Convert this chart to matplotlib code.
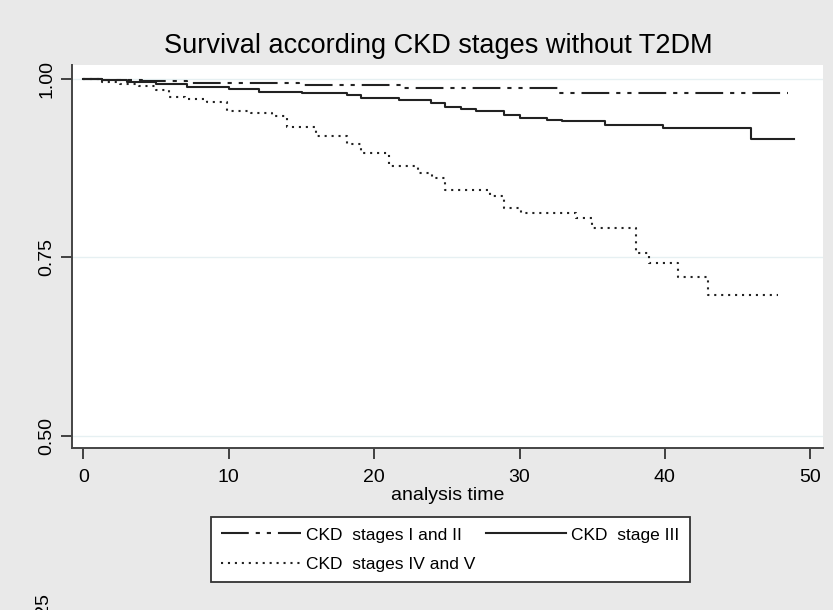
import matplotlib
matplotlib.use('Agg')
import matplotlib.pyplot as plt

plt.rcParams['font.family'] = ['Liberation Sans', 'DejaVu Sans']
plt.rcParams['lines.scale_dashes'] = False

# Kaplan-Meier step data
t_12 = [0, 1.3, 4.0, 7.1, 14.8, 21.9, 32.7, 48.5]
s_12 = [1.0, 0.998, 0.997, 0.995, 0.992, 0.988, 0.981, 0.981]

t_3 = [0, 1.3, 3.0, 5.0, 7.1, 10.0, 12.1, 15.0, 18.1, 19.1, 21.7, 23.9, 24.9,
       26.0, 27.0, 28.9, 30.0, 31.9, 32.9, 35.9, 39.9, 45.9, 48.9]
s_3 = [1.0, 0.998, 0.996, 0.993, 0.989, 0.986, 0.982, 0.980, 0.978, 0.973, 0.971,
       0.966, 0.961, 0.958, 0.955, 0.949, 0.946, 0.942, 0.941, 0.935, 0.932, 0.916, 0.916]

t_45 = [0, 1.3, 2.5, 3.8, 5.0, 5.9, 7.0, 8.5, 9.9, 11.5, 13.0, 14.0, 16.0, 18.1,
        19.1, 21.0, 23.0, 24.0, 24.9, 28.0, 28.9, 30.1, 33.9, 35.0, 38.0, 38.9,
        40.9, 43.0, 47.8]
s_45 = [1.0, 0.996, 0.993, 0.990, 0.985, 0.975, 0.972, 0.968, 0.955, 0.952, 0.948,
        0.933, 0.920, 0.909, 0.897, 0.878, 0.868, 0.862, 0.844, 0.836, 0.819, 0.812,
        0.805, 0.792, 0.756, 0.742, 0.722, 0.698, 0.698]

labels = ['CKD  stages I and II', 'CKD  stage III', 'CKD  stages IV and V']
xticks = [0, 10, 20, 30, 40, 50]
yticks = [0.50, 0.75, 1.00]

bg = '#e9e9e9'
fig = plt.figure(figsize=(8.33, 6.10), dpi=100, facecolor=bg)
ax = fig.add_axes([72 / 833, 1 - 448 / 610, (823 - 72) / 833, (448 - 65) / 610])
ax.set_facecolor('white')

for y in yticks:
    ax.axhline(y, color='#e6f0f2', lw=1.0, zorder=0)

l1, = ax.plot(t_12, s_12, drawstyle='steps-post', color='#222222', lw=1.5,
              linestyle=(0, (20, 5, 3, 5, 3, 5)))
l2, = ax.plot(t_3, s_3, drawstyle='steps-post', color='#222222', lw=1.5,
              linestyle='-')
l3, = ax.plot(t_45, s_45, drawstyle='steps-post', color='#222222', lw=1.5,
              linestyle=(0, (1.5, 3.5)))

ax.set_xlim(-0.79, 50.88)
ax.set_ylim(0.4832, 1.0196)
ax.set_xticks(xticks)
ax.set_yticks(yticks)
ax.set_yticklabels(['0.50', '0.75', '1.00'], rotation=90, va='center')
ax.tick_params(axis='both', length=8, width=1.3, color='#333333', labelsize=14)
ax.tick_params(axis='x', pad=7)
ax.tick_params(axis='y', pad=4)
for side in ['top', 'right']:
    ax.spines[side].set_visible(False)
for side in ['left', 'bottom']:
    ax.spines[side].set_color('#444444')
    ax.spines[side].set_linewidth(1.4)

ax.set_xlabel('analysis time', fontsize=14, labelpad=1)

fig.text(438 / 833, 1 - 46 / 610, 'Survival according CKD stages without T2DM',
         fontsize=19.5, ha='center', va='center')

# clipped tick label of the panel below
fig.text(44 / 833, 1 - 593 / 610, '0.25', rotation=90, fontsize=14,
         ha='center', va='top')

# row order: I/II and III on the first row, IV/V below
leg = fig.legend([l1, l3, l2], [labels[0], labels[2], labels[1]], ncol=2,
                 loc='upper center', bbox_to_anchor=(450.5 / 833, 1 - 517 / 610),
                 borderaxespad=0, fontsize=12.5, frameon=True, fancybox=False,
                 edgecolor='#333333', handlelength=4.6, handletextpad=0.3,
                 columnspacing=0.6, labelspacing=0.8, borderpad=0.6)
leg.get_frame().set_linewidth(1.3)
leg.get_frame().set_facecolor('white')
leg.get_frame().set_alpha(1)

fig.savefig('out.png', dpi=100, facecolor=bg)
